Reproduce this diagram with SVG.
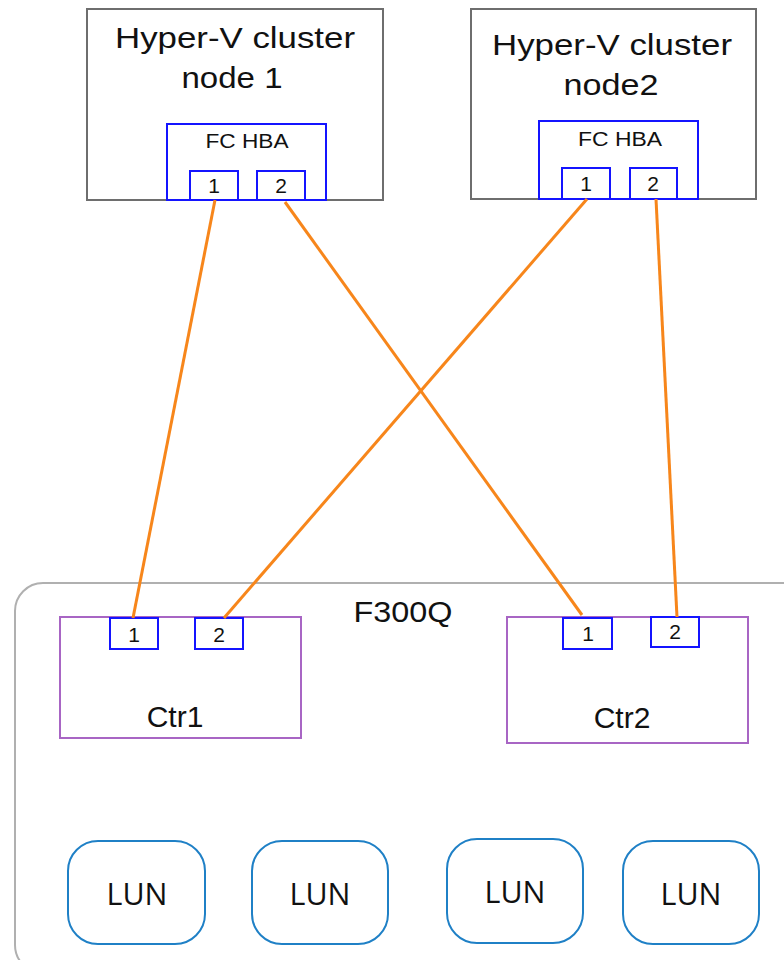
<svg xmlns="http://www.w3.org/2000/svg" width="784" height="960" viewBox="0 0 784 960">
<style>
.node{fill:#fff;stroke:#6e6e6e;stroke-width:2}
.hba{fill:#fff;stroke:#1414ff;stroke-width:2}
.ctr{fill:#fff;stroke:#a865c4;stroke-width:2}
.lun{fill:#fff;stroke:#1f80c6;stroke-width:2}
.cont{fill:#fff;stroke:#b0b0b0;stroke-width:2}
.wire{stroke:#f7861b;stroke-width:3;fill:none}
text{font-family:"Liberation Sans",Arial,sans-serif;fill:#111;text-anchor:middle}
.big{font-size:30px}
.mid{font-size:20px}
.dig{font-size:21px}
.lunt{font-family:"Open Sans","Liberation Sans",sans-serif;font-size:31px}
</style>
<rect width="784" height="960" fill="#fff"/>
<g id="f300q">
<rect class="cont" x="15" y="583" width="800" height="390" rx="28"/>
<text class="big" x="403" y="622" textLength="99" lengthAdjust="spacingAndGlyphs">F300Q</text>
</g>
<g id="node1">
<rect class="node" x="87" y="9" width="296" height="191"/>
<text class="big" x="235" y="48" textLength="240" lengthAdjust="spacingAndGlyphs">Hyper-V cluster</text>
<text class="big" x="232" y="88" textLength="101" lengthAdjust="spacingAndGlyphs">node 1</text>
<rect class="hba" x="167" y="124" width="159" height="76"/>
<text class="mid" x="247" y="148" textLength="83" lengthAdjust="spacingAndGlyphs">FC HBA</text>
<rect class="hba" x="190" y="171" width="48" height="29"/>
<text class="dig" x="214" y="193">1</text>
<rect class="hba" x="257" y="171" width="48" height="29"/>
<text class="dig" x="281" y="193">2</text>
</g>
<g id="node2">
<rect class="node" x="471" y="9" width="285" height="190"/>
<text class="big" x="612" y="55" textLength="240" lengthAdjust="spacingAndGlyphs">Hyper-V cluster</text>
<text class="big" x="611" y="95" textLength="95" lengthAdjust="spacingAndGlyphs">node2</text>
<rect class="hba" x="539" y="121" width="159" height="78"/>
<text class="mid" x="620" y="146" textLength="84" lengthAdjust="spacingAndGlyphs">FC HBA</text>
<rect class="hba" x="562" y="168" width="48" height="31"/>
<text class="dig" x="586" y="191">1</text>
<rect class="hba" x="630" y="168" width="47" height="31"/>
<text class="dig" x="653" y="191">2</text>
</g>
<g id="ctr1">
<rect class="ctr" x="60" y="617" width="241" height="121"/>
<rect class="hba" x="110" y="618" width="48" height="31"/>
<text class="dig" x="134" y="642">1</text>
<rect class="hba" x="195" y="618" width="48" height="31"/>
<text class="dig" x="219" y="642">2</text>
<text class="big" x="175" y="727">Ctr1</text>
</g>
<g id="ctr2">
<rect class="ctr" x="507" y="617" width="241" height="126"/>
<rect class="hba" x="563" y="618" width="49" height="31"/>
<text class="dig" x="588" y="641">1</text>
<rect class="hba" x="651" y="617" width="48" height="30"/>
<text class="dig" x="675" y="639">2</text>
<text class="big" x="622" y="728">Ctr2</text>
</g>
<g id="lun1">
<rect class="lun" x="68" y="841" width="137" height="103" rx="30"/>
<text class="lunt" x="137" y="905" textLength="61" lengthAdjust="spacingAndGlyphs">LUN</text>
</g>
<g id="lun2">
<rect class="lun" x="252" y="841" width="136" height="103" rx="30"/>
<text class="lunt" x="320" y="905" textLength="61" lengthAdjust="spacingAndGlyphs">LUN</text>
</g>
<g id="lun3">
<rect class="lun" x="447" y="839" width="136" height="104" rx="30"/>
<text class="lunt" x="515" y="903" textLength="61" lengthAdjust="spacingAndGlyphs">LUN</text>
</g>
<g id="lun4">
<rect class="lun" x="623" y="841" width="136" height="103" rx="30"/>
<text class="lunt" x="691" y="905" textLength="61" lengthAdjust="spacingAndGlyphs">LUN</text>
</g>
<g id="connectors">
<line class="wire" x1="215" y1="200" x2="133" y2="618"/>
<line class="wire" x1="285" y1="202" x2="582" y2="615"/>
<line class="wire" x1="587" y1="199" x2="224" y2="618"/>
<line class="wire" x1="656" y1="199" x2="677" y2="617"/>
</g>
</svg>
